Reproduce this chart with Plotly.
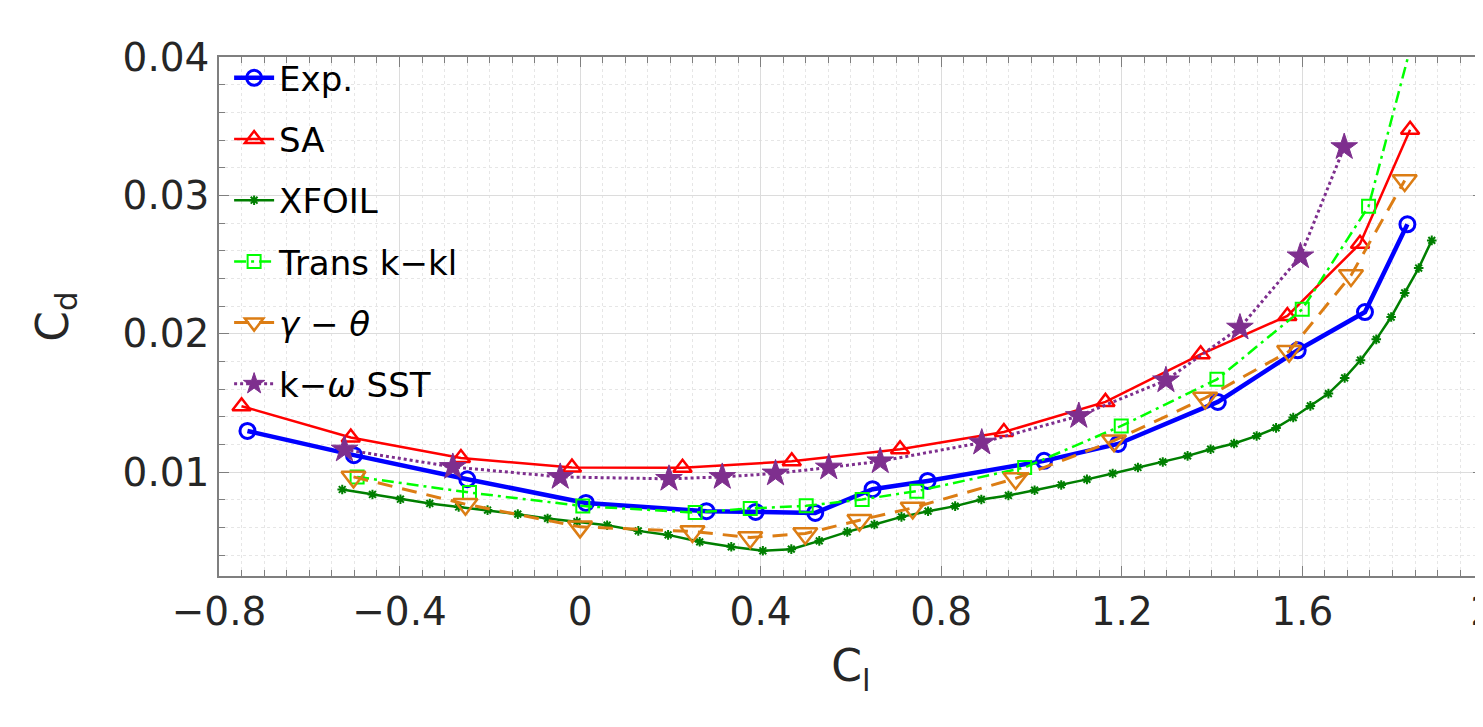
import plotly.graph_objects as go

# lift coefficient (x) / drag coefficient (y)
exp_cl = [-0.737, -0.501, -0.250, 0.013, 0.280, 0.389, 0.521, 0.648, 0.770, 1.028, 1.192, 1.413, 1.590, 1.739, 1.833]
exp_cd = [0.01298, 0.01123, 0.00949, 0.00778, 0.00718, 0.00713, 0.00706, 0.00877, 0.00937, 0.01082, 0.01204, 0.01508, 0.01881, 0.02157, 0.02791]

sa_cl = [-0.750, -0.508, -0.264, -0.018, 0.227, 0.469, 0.709, 0.939, 1.164, 1.375, 1.567, 1.728, 1.839]
sa_cd = [0.01477, 0.01251, 0.01103, 0.01034, 0.01032, 0.01079, 0.01166, 0.01291, 0.01508, 0.01852, 0.02129, 0.02651, 0.03474]

xfoil_cl = [-0.527, -0.460, -0.398, -0.333, -0.269, -0.205, -0.138, -0.072, -0.007, 0.060, 0.129, 0.195,
            0.265, 0.335, 0.405, 0.468, 0.530, 0.592, 0.652, 0.712, 0.771, 0.831, 0.889, 0.949, 1.007,
            1.066, 1.123, 1.180, 1.236, 1.291, 1.346, 1.397, 1.449, 1.499, 1.542, 1.580, 1.618, 1.658,
            1.694, 1.729, 1.764, 1.797, 1.827, 1.858, 1.887]
xfoil_cd = [0.00875, 0.00839, 0.00805, 0.00774, 0.00749, 0.00726, 0.00697, 0.00666, 0.00643, 0.00617, 0.00576, 0.00547,
            0.00497, 0.00461, 0.00432, 0.00444, 0.00504, 0.00569, 0.00622, 0.00677, 0.00718, 0.00755, 0.00803, 0.00832, 0.00870,
            0.00908, 0.00948, 0.00991, 0.01034, 0.01074, 0.01118, 0.01166, 0.01207, 0.01262, 0.01320, 0.01395, 0.01479, 0.01568,
            0.01681, 0.01809, 0.01960, 0.02121, 0.02295, 0.02475, 0.02675]

kkl_cl = [-0.494, -0.245, 0.006, 0.255, 0.377, 0.501, 0.625, 0.746, 0.985, 1.199, 1.411, 1.600, 1.747, 1.870]
kkl_cd = [0.00966, 0.00853, 0.00755, 0.00708, 0.00738, 0.00757, 0.00803, 0.00863, 0.01034, 0.01334, 0.01671, 0.02177, 0.02921, 0.0444]

gt_cl = [-0.502, -0.254, 0.000, 0.249, 0.377, 0.499, 0.619, 0.737, 0.965, 1.183, 1.385, 1.571, 1.708, 1.827]
gt_cd = [0.00966, 0.00769, 0.00605, 0.00572, 0.00528, 0.00557, 0.00653, 0.00742, 0.00955, 0.01228, 0.01536, 0.01874, 0.02422, 0.03108]

sst_cl = [-0.522, -0.282, -0.044, 0.197, 0.315, 0.433, 0.551, 0.665, 0.890, 1.105, 1.298, 1.462, 1.596, 1.693]
sst_cd = [0.01164, 0.01038, 0.00966, 0.00952, 0.00966, 0.00991, 0.01034, 0.01079, 0.01214, 0.01406, 0.01664, 0.02045, 0.0256, 0.03349]

x_ticks = [-0.8, -0.4, 0, 0.4, 0.8, 1.2, 1.6, 2]
y_ticks = [0.01, 0.02, 0.03, 0.04]

FONT = "DejaVu Sans"

fig = go.Figure()

series = [
    ("Exp.", exp_cl, exp_cd, "rgb(0,0,255)", 4.5, "solid", "circle-open", 15, 3),
    ("SA", sa_cl, sa_cd, "rgb(255,0,0)", 2.5, "solid", "triangle-up-open", 16, 2.5),
    ("XFOIL", xfoil_cl, xfoil_cd, "rgb(0,127,0)", 2.5, "solid", "asterisk-open", 8, 2),
    ("Trans k\u2212kl", kkl_cl, kkl_cd, "rgb(0,255,0)", 2.5, "12px,5px,3px,5px", "square-open", 13, 2),
    ("<i>\u03b3</i> \u2212 <i>\u03b8</i>", gt_cl, gt_cd, "rgb(220,125,20)", 3, "15px,10px", "triangle-down-open", 21, 2.5),
    ("k\u2212<i>\u03c9</i> SST", sst_cl, sst_cd, "rgb(126,47,142)", 3, "dot", "star", 20, 1),
]

for i, (name, xs, ys, col, lw, dash, sym, ms, mlw) in enumerate(series):
    fig.add_trace(go.Scatter(
        x=xs, y=ys, name=name, mode="lines+markers",
        legendgroup="g%d" % i,
        line=dict(color=col, width=lw, dash=dash),
        marker=dict(symbol=sym, size=ms, color=col, line=dict(color=col, width=mlw)),
    ))

axis_common = dict(
    showline=True, linecolor="#7f7f7f", linewidth=1.5, mirror="allticks",
    ticks="inside", ticklen=10, tickcolor="#7f7f7f", tickwidth=1,
    showgrid=True, gridcolor="#dcdcdc", gridwidth=1, zeroline=False,
    automargin=False, ticklabeloverflow="allow",
    tickfont=dict(family=FONT, size=39, color="#262626"),
)

fig.update_xaxes(
    range=[-0.8, 2.0005], tickvals=x_ticks, ticktext=[("\u2212" if v < 0 else "") + ("%g" % abs(v)) for v in x_ticks],
    title=dict(text="C<sub>l</sub>", font=dict(family=FONT, size=44, color="#262626"), standoff=18),
    minor=dict(dtick=0.05, tick0=0, ticks="inside", ticklen=6, tickcolor="#7f7f7f",
               showgrid=True, gridcolor="#e6e6e6", griddash="dot"),
    **axis_common)
fig.update_yaxes(
    range=[0.0025, 0.04], tickvals=y_ticks, ticktext=["%g" % v for v in y_ticks],
    title=dict(text="C<sub>d</sub>", font=dict(family=FONT, size=44, color="#262626"), standoff=40),
    minor=dict(dtick=0.002, tick0=0, ticks="inside", ticklen=6, tickcolor="#7f7f7f",
               showgrid=True, gridcolor="#e6e6e6", griddash="dot"),
    **axis_common)

# page body has an 8 px margin, so the figure is drawn 8 px smaller and offset
fig.update_layout(
    width=1475, height=719,
    margin=dict(l=211, r=0, t=49, b=151),
    paper_bgcolor="white", plot_bgcolor="white",
    font=dict(family=FONT, color="black"),
    legend=dict(x=0.008, y=1.015, xanchor="left", yanchor="top",
                bgcolor="rgba(0,0,0,0)", borderwidth=0, maxheight=700,
                font=dict(family=FONT, size=34, color="black"),
                tracegroupgap=14, itemwidth=40),
    showlegend=True,
)

fig.write_html("out.html")
